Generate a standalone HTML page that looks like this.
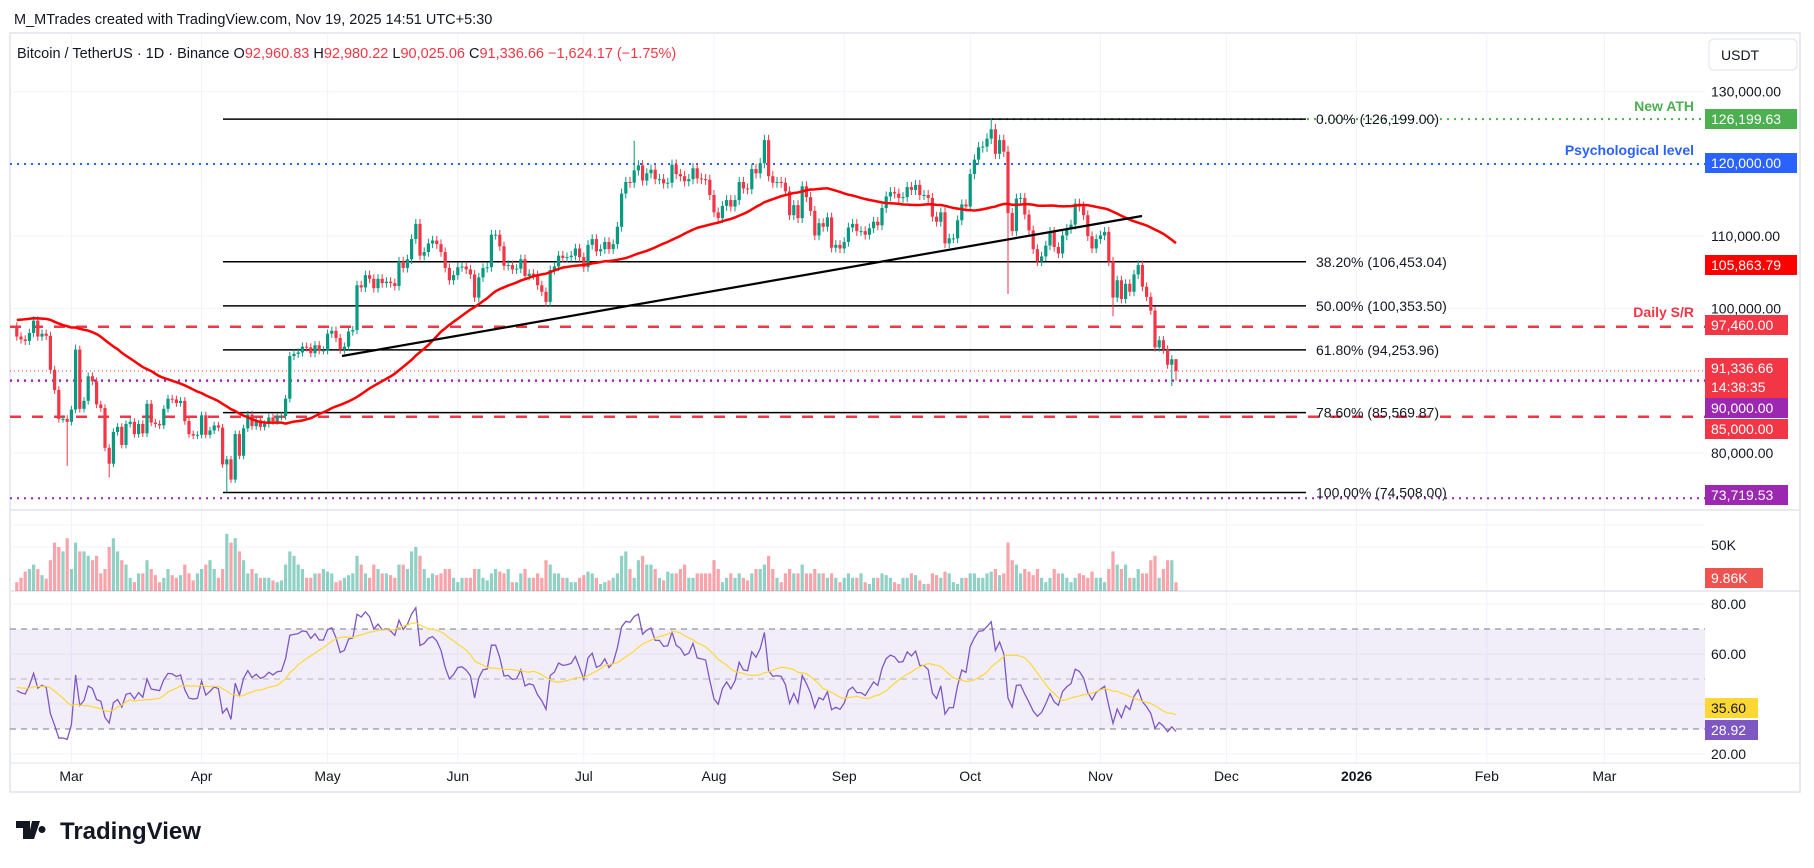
<!DOCTYPE html>
<html><head><meta charset="utf-8">
<style>
html,body{margin:0;padding:0;background:#fff;width:1814px;height:868px;overflow:hidden}
svg text{font-family:"Liberation Sans",sans-serif}
</style></head>
<body>
<svg id="chart" width="1814" height="868" viewBox="0 0 1814 868" xmlns="http://www.w3.org/2000/svg">
<defs>
<clipPath id="cp"><rect x="10" y="33" width="1695" height="477"/></clipPath>
<clipPath id="cv"><rect x="10" y="510" width="1695" height="81"/></clipPath>
<clipPath id="cr"><rect x="10" y="591" width="1695" height="172"/></clipPath>
</defs>
<text x="14" y="24" font-size="14.5" fill="#131722">M_MTrades created with TradingView.com, Nov 19, 2025 14:51 UTC+5:30</text>
<rect x="10" y="33" width="1790" height="759" fill="none" stroke="#e0e3eb" stroke-width="1.5"/>
<g id="grid"></g>
<rect x="10" y="629" width="1695" height="100" fill="rgba(126,87,194,0.1)"/>
<line x1="10" x2="1705" y1="629" y2="629" stroke="#787b86" stroke-dasharray="6,5"/>
<line x1="10" x2="1705" y1="679" y2="679" stroke="#b2b5be" stroke-dasharray="6,5"/>
<line x1="10" x2="1705" y1="729" y2="729" stroke="#787b86" stroke-dasharray="6,5"/>
<line x1="10" x2="1800" y1="510" y2="510" stroke="#e0e3eb" stroke-width="1.5"/>
<line x1="10" x2="1800" y1="591" y2="591" stroke="#e0e3eb" stroke-width="1.5"/>
<line x1="10" x2="1800" y1="763" y2="763" stroke="#e0e3eb" stroke-width="1"/>
<g id="levels"></g>
<g id="price" clip-path="url(#cp)"></g>
<g id="vol" clip-path="url(#cv)"></g>
<g id="rsi" clip-path="url(#cr)"></g>
<g id="axis"></g>
<text x="17" y="58" font-size="14.5" fill="#131722">Bitcoin / TetherUS · 1D · Binance  O<tspan fill="#f23645">92,960.83</tspan>  H<tspan fill="#f23645">92,980.22</tspan>  L<tspan fill="#f23645">90,025.06</tspan>  C<tspan fill="#f23645">91,336.66  −1,624.17 (−1.75%)</tspan></text>
<rect x="1709" y="39" width="88" height="31" rx="5" fill="#fff" stroke="#e0e3eb"/>
<text x="1721" y="60" font-size="14" fill="#131722">USDT</text>
<g>
<path d="M16 821h14v18h-7v-11h-7zM32 821h8l-6 18h-6zM42 826a3.5 3.5 0 1 0 0.01 0z" fill="#131722"/>
<text x="60" y="839" font-size="24" font-weight="bold" fill="#131722">TradingView</text>
</g>
</svg>
<script>
const preCloses=[93700,92600,93400,94400,96900,98100,98200,98300,102200,96900,95000,92500,94700,94500,94500,94500,96500,100500,99900,104100,104500,101300,104400,102000,106100,104600,102700,102100,104700,102400,101300,97700,102400,101400,97600,96500,98000,96600,97400,96600,95700,97800,96600,95800,97900,96600,96600,97600,97500];
const closes=[
96100,95700,95500,96600,98300,96100,96500,96200,91500,88700,84700,84700,84300,
86000,94300,86100,87200,90600,89900,86700,86200,80700,78500,82900,83600,81100,84000,84300,82600,84000,82700,86800,84200,84000,83800,86100,87500,87400,86900,87200,84400,82600,82400,82500,
85200,82500,83100,83800,83500,78400,79100,76300,82600,79600,83400,85300,83700,84500,83600,84000,84900,84400,85000,85100,87500,93400,93700,93900,94700,94600,93800,94900,94200,94200,
96500,96900,95900,94300,94700,96800,97000,103200,102900,104600,104100,102800,104100,103500,103700,103500,103100,106500,105600,106800,109600,111700,107300,107800,109000,109400,108900,107800,105600,103900,104600,
105700,105800,105400,104700,101500,104300,105600,105700,110200,110200,108600,105900,106000,105400,105500,106800,104500,104800,104600,103200,102300,100900,105300,105800,107300,107000,107100,107300,108300,107100,
105700,108800,109600,107900,108200,109200,108200,108900,111300,115900,117500,117400,119100,119800,117700,118700,119200,117900,117900,117300,117400,119900,118600,118300,117600,117900,119400,118000,117900,117800,115700,
113300,112500,114200,115000,114100,115000,117500,116600,116500,119300,118700,120100,123300,118300,117400,117500,117400,116200,112900,114300,112500,116900,115400,113500,110100,111800,111300,112600,108400,108800,108300,
109200,111200,111700,110700,110700,110200,111100,112000,111500,113900,115500,116100,115900,115300,115400,116800,116400,117100,115700,115700,115300,112700,112000,113300,109000,109700,109700,112200,114400,114100,
118600,120600,122300,122400,123500,124800,121400,123300,121700,113200,110700,115200,115300,113000,110800,108200,106500,107200,108700,110600,108500,107600,110100,111000,111600,114500,114100,112900,110000,108300,109600,
110100,110600,106500,101500,103900,101300,103400,102300,104700,106000,103000,101600,99700,94600,95600,94300,92200,92960,91337];
const volumes=[
10,15,22,25,30,25,18,14,35,55,50,45,60,
25,55,45,45,40,35,40,20,25,50,60,45,35,30,15,10,20,20,35,25,18,10,15,25,18,15,18,30,20,12,20,
25,30,35,25,15,25,65,55,60,45,35,20,25,20,15,15,15,12,10,12,30,45,40,30,25,15,15,20,20,25,
22,20,10,12,15,18,20,40,30,20,15,30,25,20,20,18,15,30,30,25,45,50,40,25,15,20,18,20,25,25,15,
10,15,15,15,25,25,15,12,20,25,22,20,25,10,10,20,25,15,15,20,15,35,30,20,20,15,15,10,10,15,
18,22,20,15,8,10,12,15,20,40,45,25,15,35,40,30,30,25,15,12,22,20,20,25,30,15,15,20,20,20,20,
35,25,10,15,20,15,20,15,12,20,25,25,30,40,25,15,10,20,25,20,20,30,20,20,25,20,20,15,20,15,10,
15,20,15,15,20,10,8,15,15,20,18,15,10,8,15,15,20,18,12,8,8,20,18,15,22,20,10,8,15,15,
20,20,15,15,20,22,25,18,20,55,35,30,20,25,22,18,25,15,10,15,25,20,20,15,10,15,20,18,15,22,15,
15,10,25,45,30,25,30,15,15,25,20,20,35,40,15,25,35,35,9.86];
const hiIdx=[232,276,14,147,236];
const hiVal=[126199,92980,95000,123200,122500];
const loIdx=[50,236,261,275,276,12,22];
const loVal=[74508,102000,98900,89250,90025,78200,76600];
const fibLevels=[126199,106453.04,100353.5,94253.96,85569.87,74508];
const fibLabels=["0.00% (126,199.00)","38.20% (106,453.04)","50.00% (100,353.50)","61.80% (94,253.96)","78.60% (85,569.87)","100.00% (74,508.00)"];
const priceTicks=[130000,110000,100000,80000];
const monthLabels=["Mar","Apr","May","Jun","Jul","Aug","Sep","Oct","Nov","Dec","2026","Feb","Mar"];
const monthDayOffsets=[-263,-232,-202,-171,-141,-110,-79,-49,-18,12,43,74,102];

const NS="http://www.w3.org/2000/svg";
const N=closes.length;
const xOf=i=>1176-(N-1-i)*4.2;
const xDay=d=>1176+d*4.2;
const yP=p=>1030.7-p*0.007223;
const yV=v=>591-v*0.88;
const yR=r=>604+(80-r)*2.5;
function mk(tag,attrs,parent){const e=document.createElementNS(NS,tag);for(const k in attrs)e.setAttribute(k,attrs[k]);parent.appendChild(e);return e;}
const G=id=>document.getElementById(id);

const grid=G('grid');
monthDayOffsets.forEach((d,k)=>{const l=mk('line',{x1:xDay(d),x2:xDay(d),y1:33,y2:763,stroke:'#f0f3fa','stroke-width':1},grid);

});
for(let p=70000;p<=130000;p+=10000){const l=mk('line',{x1:10,x2:1705,y1:yP(p),y2:yP(p),stroke:'#f0f3fa'},grid);

}
[50].forEach(v=>{const l=mk('line',{x1:10,x2:1705,y1:yV(v),y2:yV(v),stroke:'#f0f3fa'},grid);

});
[80,60,40,20].forEach(v=>{const l=mk('line',{x1:10,x2:1705,y1:yR(v),y2:yR(v),stroke:'#f0f3fa'},grid);

});

const lv=G('levels');
function hline(y,x1,color,dash,w,name){const l=mk('line',{x1:x1,x2:1705,y1:y,y2:y,stroke:color,'stroke-width':w,'stroke-dasharray':dash},lv);

}
hline(yP(120000),10,'#2962ff','2,5',2,'psychological-level-line');
hline(yP(126199.63),992,'#4caf50','2,5',2,'ath-line');
hline(yP(97460),10,'#f23645','11,11',2.5,'daily-sr-line');
hline(yP(85000),10,'#f23645','11,11',2.5,'support-85k-line');
hline(yP(90000),10,'#9c27b0','2,5',2.5,'level-90k-line');
hline(yP(91336.66),10,'#f23645','1,3',1,'last-price-line');
hline(yP(73719.53),10,'#9c27b0','2,5',2,'level-73k-line');
fibLevels.forEach((p,k)=>{const l=mk('line',{x1:223,x2:1306,y1:yP(p),y2:yP(p),stroke:'#000','stroke-width':1.5},lv);


const t=mk('text',{x:1316,y:yP(p)+5,'font-size':14,fill:'#131722'},lv);t.textContent=fibLabels[k];

});
[['New ATH','#4caf50',106],['Psychological level','#2962ff',150],['Daily S/R','#f23645',312]].forEach(a=>{const t=mk('text',{x:1694,y:a[2]+5,'font-size':14,'font-weight':'bold',fill:a[1],'text-anchor':'end'},lv);t.textContent=a[0];

});

const pg=G('price');
const opens=closes.map((c,i)=>i===0?preCloses[preCloses.length-1]:closes[i-1]);
const highs=closes.map((c,i)=>Math.max(c,opens[i])*1.006);
const lows=closes.map((c,i)=>Math.min(c,opens[i])*0.994);
hiIdx.forEach((k,j)=>highs[k]=hiVal[j]);
loIdx.forEach((k,j)=>lows[k]=loVal[j]);
opens[N-1]=92960.83;
closes.forEach((c,i)=>{const o=opens[i],up=c>=o,col=up?'#089981':'#f23645',x=xOf(i);
const w=mk('line',{x1:x,x2:x,y1:yP(highs[i]),y2:yP(lows[i]),stroke:col,'stroke-width':1},pg);


const b=mk('rect',{x:x-1.6,y:yP(Math.max(o,c)),width:3.2,height:Math.max(1,Math.abs(yP(o)-yP(c))),fill:col},pg);

});
const all=preCloses.concat(closes);const P=preCloses.length;
let pts=[];for(let i=0;i<N;i++){const j=P+i;const s=Math.max(0,j-49);let sum=0;for(let k=s;k<=j;k++)sum+=all[k];pts.push(xOf(i)+','+yP(sum/(j-s+1)));}
const ma=mk('polyline',{points:pts.join(' '),fill:'none',stroke:'#ff0000','stroke-width':2.5,'stroke-linejoin':'round'},pg);


const tl=mk('line',{x1:342,y1:356,x2:1142,y2:216,stroke:'#000','stroke-width':2.2},pg);



const vg=G('vol');
volumes.forEach((v,i)=>{const up=closes[i]>=opens[i];const r=mk('rect',{x:xOf(i)-1.6,y:yV(v),width:3.2,height:591-yV(v),fill:up?'rgba(8,153,129,0.45)':'rgba(242,54,69,0.45)'},vg);

});

const rg=G('rsi');
let ag=0,al=0;const rsi=[];
for(let j=1;j<all.length;j++){const d=all[j]-all[j-1];const g=Math.max(d,0),l=Math.max(-d,0);
if(j<=14){ag+=g/14;al+=l/14;}else{ag=(ag*13+g)/14;al=(al*13+l)/14;}
rsi[j]=al===0?100:100-100/(1+ag/al);}
let rp=[],mp=[];
for(let i=0;i<N;i++){const j=P+i;rp.push(xOf(i)+','+yR(rsi[j]));let s=0;for(let k=j-13;k<=j;k++)s+=rsi[k];mp.push(xOf(i)+','+yR(s/14));}
const rl=mk('polyline',{points:rp.join(' '),fill:'none',stroke:'#7e57c2','stroke-width':1.3},rg);


const rm=mk('polyline',{points:mp.join(' '),fill:'none',stroke:'#fdd835','stroke-width':1.2},rg);



const ax=G('axis');
function axText(txt,y,name){const t=mk('text',{x:1711,y:y+5,'font-size':14,fill:'#131722'},ax);t.textContent=txt;

}
priceTicks.forEach(p=>axText(p.toLocaleString('en-US')+'.00',yP(p),'price-tick'));
axText('50K',545,'volume-tick');
[80,60,20].forEach(v=>axText(v.toFixed(2),yR(v),'rsi-tick'));
function badge(txt,y,bg,fg,w,name){const r=mk('rect',{x:1705,y:y-10,width:w,height:20,fill:bg},ax);


const t=mk('text',{x:1711,y:y+5,'font-size':14,fill:fg},ax);t.textContent=txt;

}
badge('126,199.63',119,'#4caf50','#fff',92,'ath-price-label');
badge('120,000.00',163,'#2962ff','#fff',92,'psych-price-label');
badge('105,863.79',265,'#ff0000','#fff',92,'sma-price-label');
badge('97,460.00',325,'#f23645','#fff',83,'sr-price-label');
const lr=mk('rect',{x:1705,y:358,width:83,height:40,fill:'#f23645'},ax);


const lt=mk('text',{x:1711,y:373,'font-size':14,fill:'#fff'},ax);lt.textContent='91,336.66';


const ct=mk('text',{x:1711,y:392,'font-size':14,fill:'#fff'},ax);ct.textContent='14:38:35';


badge('90,000.00',408,'#9c27b0','#fff',83,'level-90k-label');
badge('85,000.00',429,'#f23645','#fff',83,'level-85k-label');
badge('73,719.53',495,'#9c27b0','#fff',83,'level-73k-label');
badge('9.86K',578,'#ef5350','#fff',58,'volume-value-label');
badge('35.60',708,'#fdd835','#131722',53,'rsi-ma-value-label');
badge('28.92',730,'#7e57c2','#fff',53,'rsi-value-label');
monthLabels.forEach((m,k)=>{const t=mk('text',{x:xDay(monthDayOffsets[k]),y:781,'font-size':14,fill:'#131722','text-anchor':'middle','font-weight':m==='2026'?'bold':'normal'},ax);t.textContent=m;

});
</script>
</body></html>
